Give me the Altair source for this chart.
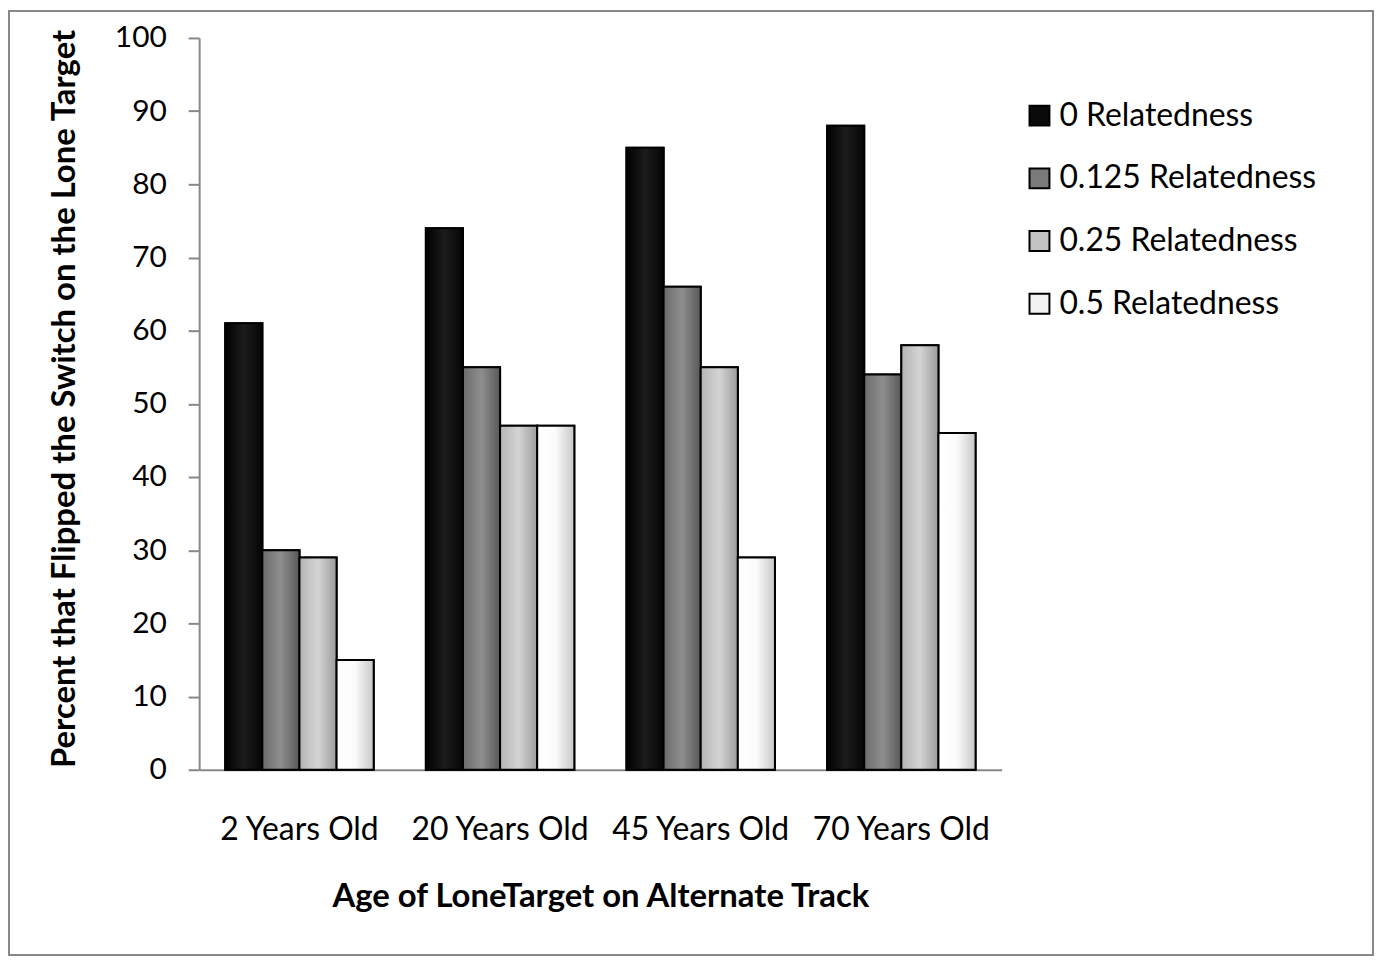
import altair as alt
import pandas as pd

ages = ["2 Years Old", "20 Years Old", "45 Years Old", "70 Years Old"]
series = ["0 Relatedness", "0.125 Relatedness", "0.25 Relatedness", "0.5 Relatedness"]
v0 = [61, 74, 85, 88]
v125 = [30, 55, 66, 54]
v25 = [29, 47, 55, 58]
v5 = [15, 47, 29, 46]

rows = []
for s, vals in zip(series, [v0, v125, v25, v5]):
    for a, v in zip(ages, vals):
        rows.append({"age": a, "series": s, "value": v})
df = pd.DataFrame(rows)

solid = ["#0a0a0a", "#7a7a7a", "#c4c4c4", "#f2f2f2"]
grad_stops = [
    ["#000000", "#1c1c1c", "#050505"],
    ["#6c6c6c", "#8e8e8e", "#585858"],
    ["#b4b4b4", "#d4d4d4", "#9c9c9c"],
    ["#ffffff", "#fbfbfb", "#c6c6c6"],
]

FONT = "Lato"

x = alt.X(
    "age:N",
    sort=ages,
    title="Age of LoneTarget on Alternate Track",
    scale=alt.Scale(domain=ages, paddingInner=0.26, paddingOuter=0.13),
    axis=alt.Axis(labelAngle=0, ticks=False, labelPadding=45, titlePadding=35),
)
xoff = alt.XOffset("series:N", scale=alt.Scale(domain=series))
y = alt.Y(
    "value:Q",
    title="Percent that Flipped the Switch on the Lone Target",
    scale=alt.Scale(domain=[0, 100]),
    axis=alt.Axis(values=list(range(0, 101, 10)), tickSize=11, labelPadding=22,
                  titlePadding=33, titleY=362),
)

base = alt.Chart(df).mark_bar(stroke="black", strokeWidth=2).encode(
    x=x,
    xOffset=xoff,
    y=y,
    color=alt.Color(
        "series:N",
        sort=series,
        scale=alt.Scale(domain=series, range=solid),
        legend=alt.Legend(
            title=None,
            orient="none",
            legendX=828,
            legendY=62,
            symbolType="square",
            symbolSize=400,
            symbolStrokeColor="black",
            symbolStrokeWidth=2,
            labelFontSize=32,
            labelFont=FONT,
            labelColor="black",
            rowPadding=31,
            labelOffset=4,
            labelLimit=400,
        ),
    ),
)

overlays = []
for s, st in zip(series, grad_stops):
    g = {
        "gradient": "linear",
        "x1": 0, "x2": 1, "y1": 0, "y2": 0,
        "stops": [
            {"offset": 0, "color": st[0]},
            {"offset": 0.5, "color": st[1]},
            {"offset": 1, "color": st[2]},
        ],
    }
    overlays.append(
        alt.Chart(df)
        .transform_filter(alt.datum.series == s)
        .mark_bar(fill=g, stroke="black", strokeWidth=2)
        .encode(x=x, xOffset=xoff, y=y)
    )

border = alt.Chart(pd.DataFrame({"k": [0]})).mark_rect(
    fill=None, stroke="#888888", strokeWidth=2
).encode(
    x=alt.value(-191), x2=alt.value(806 + 373),
    y=alt.value(-27), y2=alt.value(735 + 186),
)

chart = alt.layer(base, *overlays, border).properties(
    width=806,
    height=735,
    padding={"left": 192, "top": 28, "right": 374, "bottom": 187},
    autosize=alt.AutoSizeParams(type="none"),
).configure_view(stroke=None).configure_axis(
    grid=False,
    domainColor="#888888",
    domainWidth=2,
    tickColor="#888888",
    tickWidth=2,
    labelFont=FONT,
    labelFontSize=30,
    labelColor="black",
    titleFont=FONT,
    titleFontSize=33,
    titleFontWeight="bold",
    titleColor="black",
).configure_axisX(labelFontSize=32)

chart.save("out.html", embed_options={"renderer": "svg", "actions": False})
